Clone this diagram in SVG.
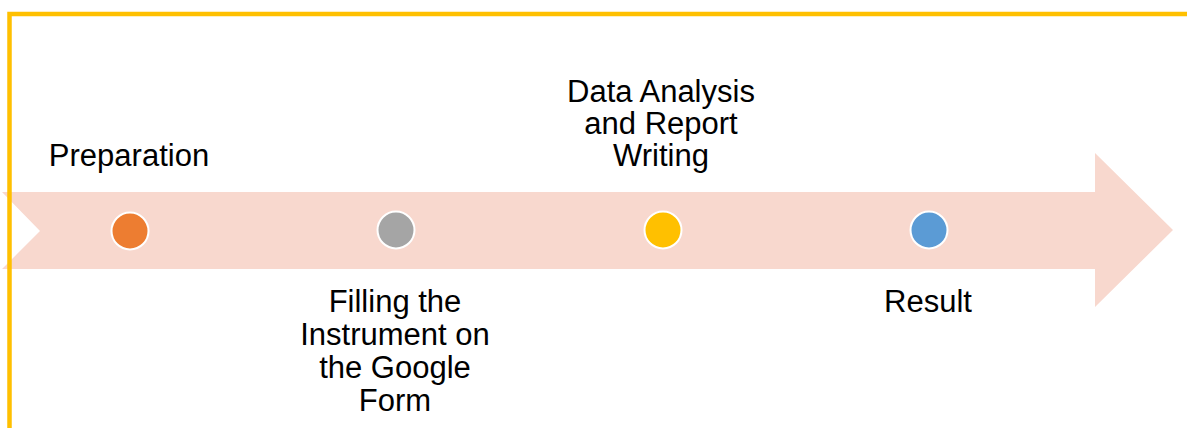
<svg xmlns="http://www.w3.org/2000/svg" width="1187" height="428" viewBox="0 0 1187 428">
  <style>
    .lbl { font-family: "Liberation Sans", Arial, sans-serif; font-size: 31px; fill: #000000; text-anchor: middle; }
    .dot { stroke: #ffffff; stroke-width: 2; }
  </style>
  <rect width="1187" height="428" fill="#ffffff"/>
  <g id="arrow">
    <polygon points="2,192 1095,192 1095,153 1173,230 1095,307 1095,269 2,269 40,231" fill="#F8D8CE"/>
  </g>
  <g id="frame">
    <path d="M 9.5 428 L 9.5 14 L 1187 14" fill="none" stroke="#FFC000" stroke-width="4.5"/>
  </g>
  <g id="connectors"></g>
  <g id="node-preparation">
    <circle class="dot" cx="130" cy="231" r="18.5" fill="#ED7D31"/>
    <text class="lbl" x="129" y="166">Preparation</text>
  </g>
  <g id="node-filling">
    <circle class="dot" cx="396" cy="230" r="18.5" fill="#A5A5A5"/>
    <text class="lbl" x="395" y="312">Filling the</text>
    <text class="lbl" x="395" y="345">Instrument on</text>
    <text class="lbl" x="395" y="378">the Google</text>
    <text class="lbl" x="395" y="411">Form</text>
  </g>
  <g id="node-analysis">
    <circle class="dot" cx="663" cy="230" r="18.5" fill="#FFC000"/>
    <text class="lbl" x="661" y="102">Data Analysis</text>
    <text class="lbl" x="661" y="134">and Report</text>
    <text class="lbl" x="661" y="166">Writing</text>
  </g>
  <g id="node-result">
    <circle class="dot" cx="929" cy="230" r="18.5" fill="#5B9BD5"/>
    <text class="lbl" x="928" y="312">Result</text>
  </g>
</svg>
